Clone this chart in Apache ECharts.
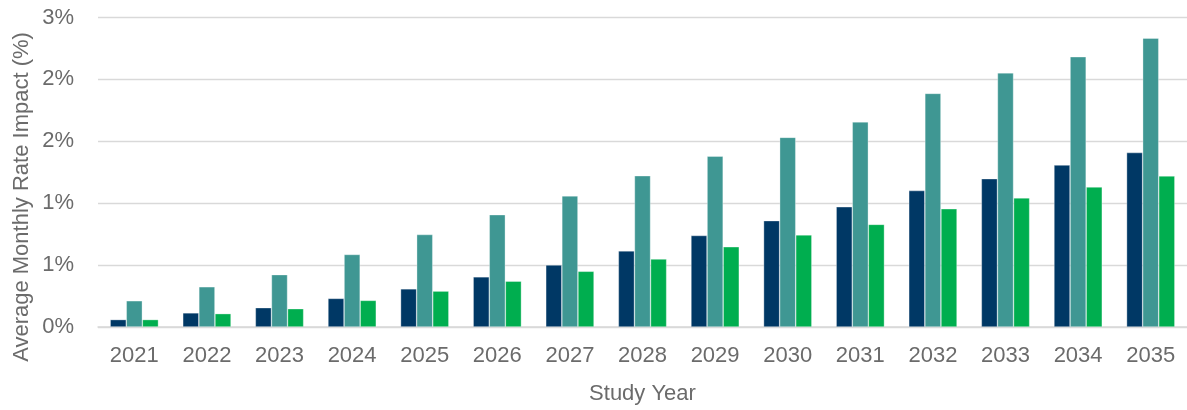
<!DOCTYPE html>
<html>
<head>
<meta charset="utf-8">
<title>Average Monthly Rate Impact by Study Year</title>
<script src="https://cdn.jsdelivr.net/npm/echarts@6/dist/echarts.min.js"></script>
<style>
  html, body { margin: 0; padding: 0; background: #ffffff; }
  #chart { width: 1187px; height: 410px; }
</style>
</head>
<body>
<div id="chart"></div>
<script>
// Study years on the category axis
const years = ['2021', '2022', '2023', '2024', '2025', '2026', '2027', '2028',
               '2029', '2030', '2031', '2032', '2033', '2034', '2035'];

// Average monthly rate impact, in percent
const scenarioA = [0.06, 0.114, 0.156, 0.231, 0.308, 0.405, 0.501, 0.615,
                   0.739, 0.859, 0.971, 1.102, 1.198, 1.308, 1.409];
const scenarioB = [0.212, 0.325, 0.423, 0.586, 0.747, 0.907, 1.059, 1.222,
                   1.380, 1.532, 1.657, 1.887, 2.053, 2.183, 2.333];
const scenarioC = [0.06, 0.108, 0.148, 0.215, 0.290, 0.370, 0.450, 0.549,
                   0.648, 0.744, 0.829, 0.955, 1.043, 1.131, 1.220];

// Value-axis tick labels (whole-percent rounding of 0, 0.5, ... 2.5)
const yTickLabels = ['0%', '1%', '1%', '2%', '2%', '3%'];

const textColor = '#6b6b6b';
const fontFamily = '"Liberation Sans", Arial, sans-serif';

const chart = echarts.init(document.getElementById('chart'), null, { renderer: 'canvas' });

function barSeries(name, data, color) {
  return {
    name: name,
    type: 'bar',
    data: data,
    barGap: '0%',
    barCategoryGap: '33.5%',
    itemStyle: { color: color, borderColor: 'rgba(255,255,255,0.55)', borderWidth: 0.6 },
    emphasis: { disabled: true }
  };
}

chart.setOption({
  animation: false,
  textStyle: { fontFamily: fontFamily },
  grid: { left: 98, right: -9, top: 17.5, bottom: 80.5, containLabel: false },
  xAxis: {
    type: 'category',
    data: years,
    name: 'Study Year',
    nameLocation: 'middle',
    nameGap: 56,
    nameTextStyle: { color: textColor, fontSize: 22, fontFamily: fontFamily },
    axisLine: { show: true, lineStyle: { color: '#d9d9d9', width: 1.5 } },
    axisTick: { show: false },
    axisLabel: { color: textColor, fontSize: 22, margin: 18, fontFamily: fontFamily, interval: 0 },
    splitLine: { show: false }
  },
  yAxis: {
    type: 'value',
    min: 0,
    max: 2.5,
    interval: 0.5,
    axisLine: { show: false },
    axisTick: { show: false },
    axisLabel: {
      color: textColor,
      fontSize: 22,
      margin: 24,
      fontFamily: fontFamily,
      formatter: function (value, index) { return yTickLabels[index]; }
    },
    splitLine: { show: true, lineStyle: { color: '#d9d9d9', width: 1.3 } }
  },
  graphic: [{
    type: 'text',
    x: 22,
    y: 197,
    rotation: Math.PI / 2,
    style: {
      text: 'Average Monthly Rate Impact (%)',
      fill: textColor,
      fontSize: 22,
      fontFamily: fontFamily,
      align: 'center',
      verticalAlign: 'middle'
    }
  }],
  series: [
    barSeries('Scenario A', scenarioA, '#003865'),
    barSeries('Scenario B', scenarioB, '#3f9793'),
    barSeries('Scenario C', scenarioC, '#00ae4f')
  ]
});
</script>
</body>
</html>
